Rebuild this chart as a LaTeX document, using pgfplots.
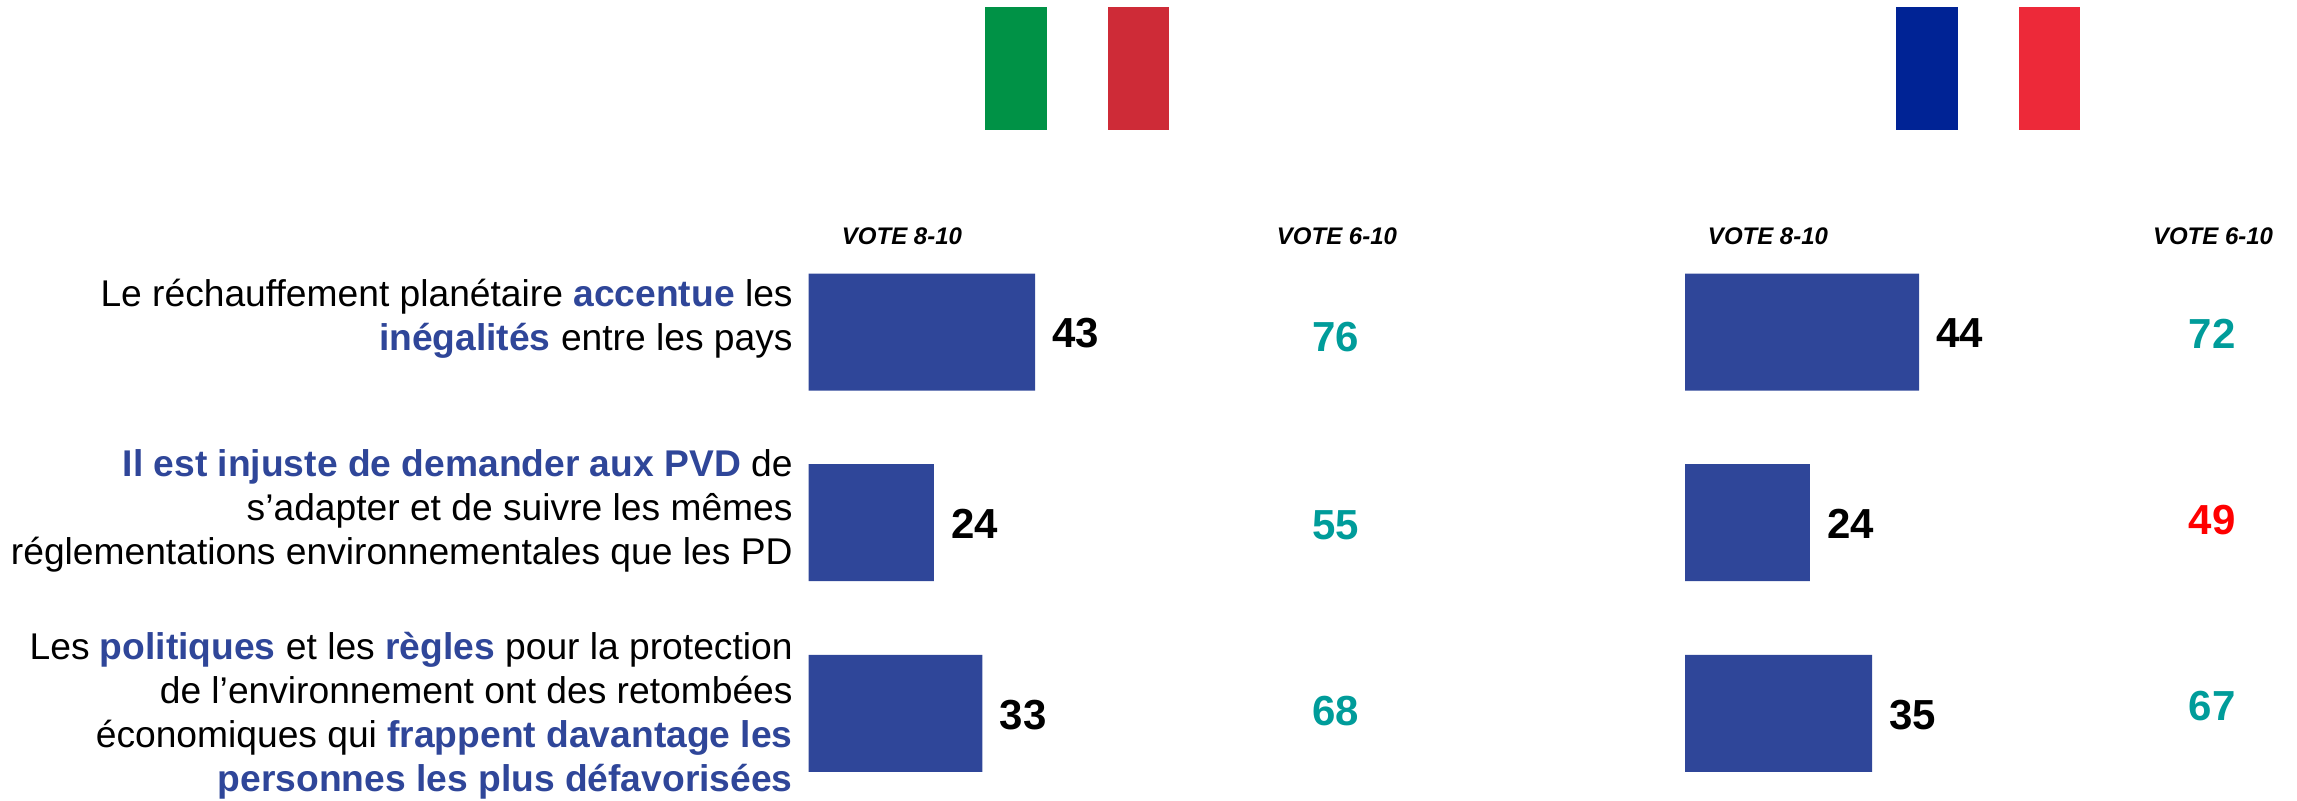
\documentclass[border=0pt]{standalone}
\usepackage{pgfplots}
\usepackage{pgfplotstable}
\usepackage{fontspec}
\setmainfont{Liberation Sans}
\pgfplotsset{compat=1.18}
\definecolor{barblue}{HTML}{2F4699}
\definecolor{tealv}{HTML}{009C9A}
\definecolor{redv}{HTML}{FF0000}
\newcommand{\hl}[1]{\textcolor{barblue}{\textbf{#1}}}
\pgfplotstableread{
y v l
0 43 43
1 23.8 24
2 33 33
}\itbars
\pgfplotstableread{
y v l
0 44.4 44
1 23.7 24
2 35.5 35
}\frbars
\pgfplotstableread{
x y v
100 0.028 76
100 1.012 55
100 1.987 68
}\ittop
\pgfplotstableread{
x y v
100 0.010 72
100 1.964 67
}\frtop
\pgfplotstableread{
x y v
100 0.987 49
}\frlow
\pgfplotsset{
  panel/.style={
    anchor=north west,
    scale only axis,
    width=263.5pt, height=266.85pt,
    xmin=0, xmax=100, ymin=-0.4, ymax=2.4,
    y dir=reverse,
    axis lines=none,
    clip=false,
  },
  valbar/.style={
    xbar, bar shift=0pt, bar width=58.5pt,
    draw=none, fill=barblue,
    point meta=explicit symbolic,
    nodes near coords,
    nodes near coords align={anchor=west},
    every node near coord/.append style={font=\fontsize{21}{21}\selectfont\bfseries, text=black, inner sep=0pt, xshift=8.5pt, yshift=-0.7pt},
  },
  valtxt/.style={
    only marks, mark=none,
    point meta=explicit symbolic,
    nodes near coords,
    nodes near coords align={anchor=center},
    every node near coord/.append style={font=\fontsize{21}{21}\selectfont\bfseries, text=#1, inner sep=0pt, anchor=center},
  },
}
\begin{document}
\begin{tikzpicture}[x=0.5pt,y=-0.5pt]
\path[use as bounding box] (0,0) rectangle (2297,800);
% flags
\fill[fill={rgb,255:red,0;green,146;blue,70}] (985,7) rectangle (1047,130);
\fill[fill={rgb,255:red,206;green,43;blue,55}] (1107.5,7) rectangle (1169,130);
\fill[fill={rgb,255:red,0;green,35;blue,149}] (1896,7) rectangle (1957.5,130);
\fill[fill={rgb,255:red,237;green,41;blue,57}] (2018.5,7) rectangle (2080,130);
% headers
\foreach \xx/\tt in {902/VOTE 8-10,1337/VOTE 6-10,1768/VOTE 8-10,2213/VOTE 6-10}
  \node[font=\fontsize{12}{12}\selectfont\bfseries\itshape, inner sep=0pt] at (\xx,236) {\tt};
% statements
\tikzset{stmt/.style={anchor=east, align=right, inner sep=0pt, font=\fontsize{18.6}{22}\selectfont}}
\node[stmt] at (793,319) {Le réchauffement planétaire \hl{accentue} les\\\hl{inégalités} entre les pays};
\node[stmt] at (793,511) {\hl{Il est injuste de demander aux PVD} de\\s’adapter et de suivre les mêmes\\réglementations environnementales que les PD};
\node[stmt] at (793,716) {Les \hl{politiques} et les \hl{règles} pour la protection\\de l’environnement ont des retombées\\économiques qui \hl{frappent davantage les}\\\hl{personnes les plus défavorisées}};
% panels
\begin{axis}[panel, at={(404.25pt,-127.9pt)}]
\addplot[valbar] table[x=v,y=y,meta=l] {\itbars};
\addplot[valtxt=tealv] table[x=x,y=y,meta=v] {\ittop};
\end{axis}
\begin{axis}[panel, at={(842.5pt,-127.9pt)}]
\addplot[valbar] table[x=v,y=y,meta=l] {\frbars};
\addplot[valtxt=tealv] table[x=x,y=y,meta=v] {\frtop};
\addplot[valtxt=redv] table[x=x,y=y,meta=v] {\frlow};
\end{axis}
\end{tikzpicture}
\end{document}
